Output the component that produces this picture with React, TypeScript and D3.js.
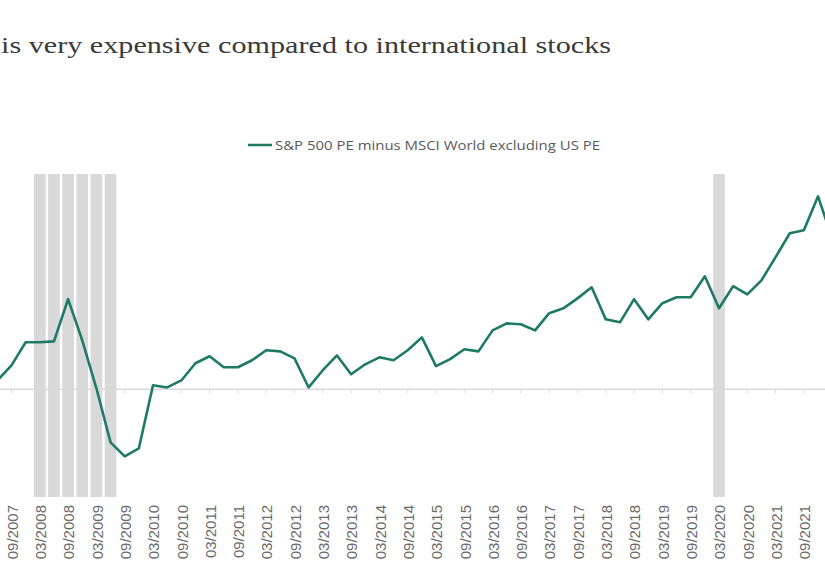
import React from 'react';
import * as d3 from 'd3';

// quarter-end dates, 06/2007 .. 03/2022
const quarters = [
  '06/2007', '09/2007', '12/2007',
  '03/2008', '06/2008', '09/2008', '12/2008',
  '03/2009', '06/2009', '09/2009', '12/2009',
  '03/2010', '06/2010', '09/2010', '12/2010',
  '03/2011', '06/2011', '09/2011', '12/2011',
  '03/2012', '06/2012', '09/2012', '12/2012',
  '03/2013', '06/2013', '09/2013', '12/2013',
  '03/2014', '06/2014', '09/2014', '12/2014',
  '03/2015', '06/2015', '09/2015', '12/2015',
  '03/2016', '06/2016', '09/2016', '12/2016',
  '03/2017', '06/2017', '09/2017', '12/2017',
  '03/2018', '06/2018', '09/2018', '12/2018',
  '03/2019', '06/2019', '09/2019', '12/2019',
  '03/2020', '06/2020', '09/2020', '12/2020',
  '03/2021', '06/2021', '09/2021', '12/2021',
  '03/2022',
];

// S&P 500 PE minus MSCI World ex US PE
const peSpread = [
  0.33, 0.89, 1.75,
  1.75, 1.78, 3.35, 1.82,
  0.04, -1.97, -2.49, -2.19,
  0.15, 0.07, 0.33, 0.97,
  1.23, 0.82, 0.82, 1.08,
  1.45, 1.41, 1.15, 0.07,
  0.71, 1.26, 0.56, 0.93,
  1.19, 1.08, 1.45, 1.93,
  0.86, 1.12, 1.49, 1.41,
  2.19, 2.45, 2.42, 2.19,
  2.83, 3.01, 3.38, 3.79,
  2.6, 2.49, 3.35, 2.6,
  3.2, 3.42, 3.42, 4.2,
  3.01, 3.83, 3.53, 4.05,
  4.91, 5.8, 5.91, 7.17,
  5.61,
];

// shaded recession quarters
const recessions = [
  '03/2008', '06/2008', '09/2008', '12/2008', '03/2009', '06/2009',
  '03/2020',
];

// axis is labelled every second quarter (March and September)
const tickLabels = quarters.filter((q) => q.startsWith('03') || q.startsWith('09'));

const W = 825;
const H = 575;
const lineColor = '#1e7a62';
const shadeColor = '#d9d9d9';

export default function App() {
  const x = d3.scalePoint<string>().domain(quarters).range([-2.65, 832.2]);
  const y = d3.scaleLinear().domain([-4, 8]).range([497, 174]);
  const barW = x.step() * 0.83;

  const line = d3
    .line<number>()
    .x((_, i) => x(quarters[i]) as number)
    .y((d) => y(d));

  return (
    <svg
      width={W}
      height={H}
      style={{ position: 'absolute', left: 0, top: 0, background: '#fff' }}
    >
      <text
        x={1}
        y={53}
        fontFamily="'Liberation Serif', serif"
        fontSize={24}
        fill="#3a3a3a"
        textLength={610}
        lengthAdjust="spacingAndGlyphs"
      >
        is very expensive compared to international stocks
      </text>

      {/* legend */}
      <line x1={248} x2={272} y1={145} y2={145} stroke={lineColor} strokeWidth={2.5} />
      <text
        x={275}
        y={149.5}
        fontFamily="'Open Sans', sans-serif"
        fontSize={12}
        fill="#595959"
        textLength={325}
        lengthAdjust="spacingAndGlyphs"
      >
        S&amp;P 500 PE minus MSCI World excluding US PE
      </text>

      {recessions.map((q) => (
        <rect
          key={q}
          x={(x(q) as number) - barW / 2}
          y={y(8)}
          width={barW}
          height={y(-4) - y(8)}
          fill={shadeColor}
        />
      ))}

      {/* zero line with half-year ticks */}
      <line x1={0} x2={W} y1={y(0)} y2={y(0)} stroke="#d9d9d9" strokeWidth={1.5} />
      {tickLabels.map((q) => (
        <line
          key={q}
          x1={x(q)}
          x2={x(q)}
          y1={y(0)}
          y2={y(0) + 4}
          stroke="#d9d9d9"
          strokeWidth={1}
        />
      ))}

      <path d={line(peSpread) ?? ''} fill="none" stroke={lineColor} strokeWidth={2.6} strokeLinejoin="round" />

      {tickLabels.map((q) => {
        const px = (x(q) as number) + 1;
        return (
          <text
            key={q}
            transform={`translate(${px},505) rotate(-90)`}
            textAnchor="end"
            dy="0.35em"
            fontFamily="'Liberation Sans', Arial, sans-serif"
            fontSize={15}
            fill="#6a6a6a"
          >
            {q}
          </text>
        );
      })}
    </svg>
  );
}
